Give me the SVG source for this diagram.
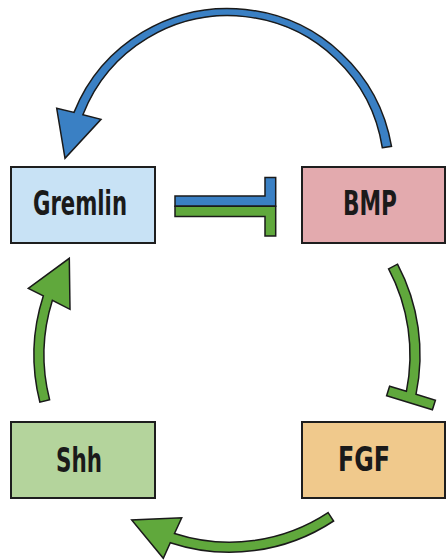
<svg xmlns="http://www.w3.org/2000/svg" width="446" height="560" viewBox="0 0 446 560">
<style>
.box{stroke:#1e1e1e;stroke-width:2}
.lbl{font-family:"Liberation Sans Narrow","DejaVu Sans Condensed",Roboto,"Liberation Sans",sans-serif;font-weight:bold;font-size:33px;fill:#1a1a1a;text-anchor:middle}
.blue{fill:#3a80c4;stroke:#1a1a1a;stroke-width:1.5;stroke-linejoin:miter}
.green{fill:#60a83c;stroke:#1a1a1a;stroke-width:1.5;stroke-linejoin:miter}
</style>
<rect width="446" height="560" fill="#ffffff"/>
<g id="connectors">
<path id="bmp-gremlin" class="blue" d="M382.3 147.7 L391.5 146.3 A166 166 0 0 0 74 112.4 L56.7 108.3 L65 158.3 L101 119.3 L82.9 114.8 A156 156 0 0 1 382.3 147.7 Z"/>
<path id="gremlin-bmp-blue" class="blue" d="M175 196 H265 V177.5 H275.7 V206.3 H175 Z"/>
<path id="gremlin-bmp-green" class="green" d="M175 206.3 H275.7 V236 H265 V216.5 H175 Z"/>
<path id="bmp-fgf" class="green" d="M388.6 268.9 L397.5 264.2 A194 194 0 0 1 416 394.3 L435.4 400.2 L432.4 409.8 L386.6 395.8 L389.6 386.2 L406.4 391.3 A184 184 0 0 0 388.6 268.9 Z"/>
<path id="fgf-shh" class="green" d="M328.1 512.6 L333.6 521 A189 189 0 0 1 170.3 542.7 L163.3 558.3 L131.7 520 L181.7 517.7 L174.5 533.5 A179 179 0 0 0 328.1 512.6 Z"/>
<path id="shh-gremlin" class="green" d="M49.6 399.8 L39.9 402.2 A192 192 0 0 1 43.3 295.9 L28.3 288.3 L69.3 258.3 L70 309.3 L52.4 300.3 A182 182 0 0 0 49.6 399.8 Z"/>
</g>
<g id="gremlin">
<rect class="box" x="11" y="167" width="144" height="76" fill="#c8e2f5"/>
<text class="lbl" x="80" y="215" textLength="94" lengthAdjust="spacingAndGlyphs">Gremlin</text>
</g>
<g id="bmp">
<rect class="box" x="302" y="167" width="143" height="76" fill="#e3aaae"/>
<text class="lbl" x="370" y="215" textLength="54" lengthAdjust="spacingAndGlyphs">BMP</text>
</g>
<g id="shh">
<rect class="box" x="11" y="422" width="144" height="76" fill="#b4d49c"/>
<text class="lbl" x="79" y="471.5" textLength="46" lengthAdjust="spacingAndGlyphs">Shh</text>
</g>
<g id="fgf">
<rect class="box" x="302" y="422" width="143" height="76" fill="#f0c98c"/>
<text class="lbl" x="364" y="471" textLength="52" lengthAdjust="spacingAndGlyphs">FGF</text>
</g>
</svg>
